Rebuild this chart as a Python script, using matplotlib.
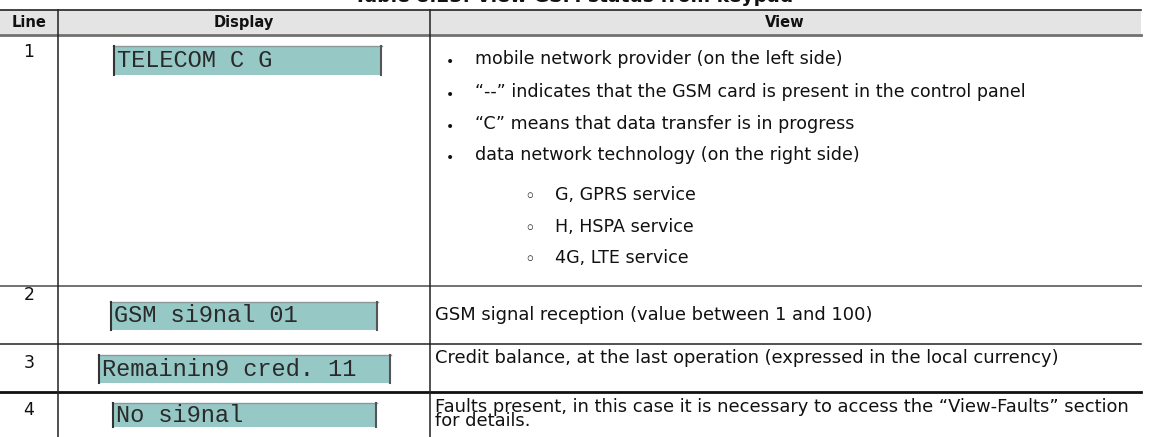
import matplotlib.pyplot as plt
from matplotlib.patches import Rectangle

# contenido de la tabla
title = "Table 8.23: View GSM status from keypad"
headers = ["Line", "Display", "View"]
line_numbers = ["1", "2", "3", "4"]
lcd_texts = ["TELECOM C G", "GSM si9nal 01", "Remainin9 cred. 11", "No si9nal"]
bullets = [
    "mobile network provider (on the left side)",
    "\u201c--\u201d indicates that the GSM card is present in the control panel",
    "\u201cC\u201d means that data transfer is in progress",
    "data network technology (on the right side)",
]
sub_bullets = ["G, GPRS service", "H, HSPA service", "4G, LTE service"]
view_texts = [
    "GSM signal reception (value between 1 and 100)",
    "Credit balance, at the last operation (expressed in the local currency)",
    "Faults present, in this case it is necessary to access the \u201cView-Faults\u201d section\nfor details.",
]

W, H = 1149, 437
fig = plt.figure(figsize=(W / 100, H / 100), dpi=100)
ax = fig.add_axes([0, 0, 1, 1])
ax.set_xlim(0, W)
ax.set_ylim(H, 0)
ax.axis("off")

font = "DejaVu Sans"
x_col1, x_col2, x_right = 58, 430, 1141

# titulo (cortado arriba)
ax.text(574, 2, title, ha="center", va="baseline", fontsize=13.5,
        fontweight="bold", family=font, color="#111111")

# cabecera
ax.add_patch(Rectangle((0, 10), x_right, 24, facecolor="#e4e4e4", edgecolor="none"))
ax.plot([0, x_right], [10, 10], color="#222222", lw=1.2)
ax.plot([0, x_right], [34.5, 34.5], color="#707070", lw=2)
for x, h in zip([29, 244, 785], headers):
    ax.text(x, 22.5, h, ha="center", va="center", fontsize=10.5, fontweight="bold",
            family=font, color="#111111")

# lineas de filas
ax.plot([0, x_right], [286, 286], color="#666666", lw=1.3)
ax.plot([0, x_right], [344, 344], color="#222222", lw=1.1)
ax.plot([0, x_right], [392, 392], color="#111111", lw=2)
ax.plot([x_col1, x_col1], [10, H], color="#222222", lw=1.1)
ax.plot([x_col2, x_col2], [10, H], color="#222222", lw=1.1)

# numeros de linea
num_y = [52, 295, 363, 410]
for y, n in zip(num_y, line_numbers):
    ax.text(29, y, n, ha="center", va="center", fontsize=12.5, family=font, color="#111111")

# pantallas LCD
lcd_boxes = [(113, 46, 382, 75), (110, 302, 378, 330), (98, 355, 391, 383), (112, 403, 377, 427)]
for (x0, y0, x1, y1), t in zip(lcd_boxes, lcd_texts):
    ax.add_patch(Rectangle((x0, y0), x1 - x0, y1 - y0, facecolor="#96c8c6", edgecolor="none"))
    ax.plot([x0, x1], [y0, y0], color="#8a9a9a", lw=1)
    ax.plot([x0 + 1, x0 + 1], [y0, y1], color="#333333", lw=1.5)
    ax.plot([x1 - 1, x1 - 1], [y0, y1], color="#555555", lw=1.5)
    ax.text(x0 + 4, (y0 + y1) / 2, t, ha="left", va="center", fontsize=17,
            family="Liberation Mono", color="#2a2a2a")

# vinetas fila 1
bullet_y = [59, 92, 124, 155]
for y, t in zip(bullet_y, bullets):
    ax.text(450, y + 3, "\u2022", ha="center", va="center", fontsize=10, family=font, color="#111111")
    ax.text(475, y, t, ha="left", va="center", fontsize=12.6, family=font, color="#111111")
sub_y = [195, 227, 258]
for y, t in zip(sub_y, sub_bullets):
    ax.text(530, y + 2, "\u25e6", ha="center", va="center", fontsize=13, family=font, color="#111111")
    ax.text(555, y, t, ha="left", va="center", fontsize=12.6, family=font, color="#111111")

# textos filas 2-4
view_y = [315, 358, 398]
view_va = ["center", "center", "top"]
for y, va, t in zip(view_y, view_va, view_texts):
    ax.text(435, y, t, ha="left", va=va, fontsize=12.9, family=font, color="#111111",
            linespacing=0.72)

plt.savefig("out.png", dpi=100)
